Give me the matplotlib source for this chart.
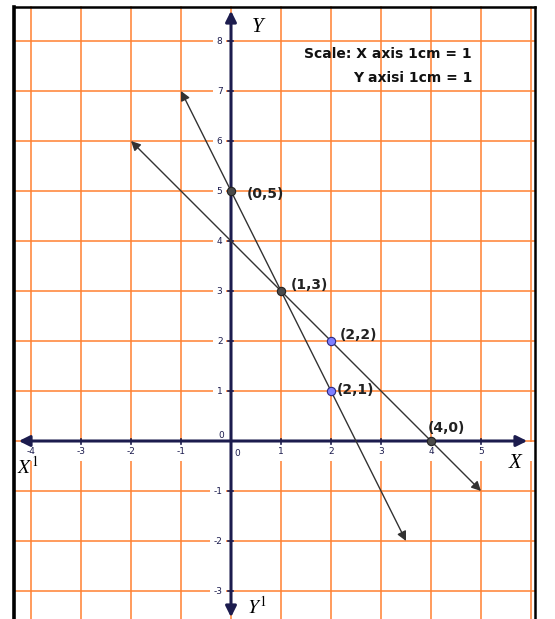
import matplotlib.pyplot as plt

plt.rcParams['mathtext.fontset'] = 'stix'

# line segments drawn with arrows at both ends (start, end)
line_a = [(-1, 7), (3.5, -2)]   # y = 5 - 2x
line_b = [(-2, 6), (5, -1)]     # y = 4 - x

# marked points
gray_pts = [(0, 5), (1, 3), (4, 0)]
blue_pts = [(2, 2), (2, 1)]
point_labels = ["(0,5)", "(1,3)", "(2,2)", "(2,1)", "(4,0)"]
label_pos = [(0.32, 4.94), (1.2, 3.12), (2.18, 2.12), (2.12, 1.02), (3.94, 0.26)]

x_ticks = [-4, -3, -2, -1, 1, 2, 3, 4, 5]
y_ticks = [-3, -2, -1, 1, 2, 3, 4, 5, 6, 7, 8]

grid_x = list(range(-4, 7))
grid_y = list(range(-3, 9))

orange = '#ff8030'
navy = '#1c1c4e'

fig = plt.figure(figsize=(5.55, 6.19), dpi=100)
ax = fig.add_axes([0, 0, 1, 1])
ax.set_xlim(-4.62, 6.48)
ax.set_ylim(-3.56, 8.82)
ax.axis('off')

left, right, top, bottom = -4.34, 6.08, 8.68, -3.6

# grid
for gx in grid_x:
    ax.plot([gx, gx], [bottom, top], color=orange, lw=1.1, zorder=1)
for gy in grid_y:
    ax.plot([left, right], [gy, gy], color=orange, lw=1.1, zorder=1)

# white band under the x tick labels (grid is broken there)
ax.fill_between([left + 0.04, right - 0.04], -0.4, -0.02, color='white', lw=0, zorder=2)

# frame
ax.plot([left, left], [bottom, top], color='black', lw=2.6, zorder=3)
ax.plot([right, right], [bottom, top], color='black', lw=1.8, zorder=3)
ax.plot([left, right], [top, top], color='black', lw=1.8, zorder=3)

# axes with arrows
ax.annotate('', xy=(-4.3, 0), xytext=(5.98, 0),
            arrowprops=dict(arrowstyle='<|-|>', color=navy, lw=2.2, mutation_scale=16), zorder=5)
ax.annotate('', xy=(0, 8.66), xytext=(0, -3.58),
            arrowprops=dict(arrowstyle='<|-|>', color=navy, lw=2.2, mutation_scale=16), zorder=5)

# tick marks and labels
for t in x_ticks:
    ax.plot([t, t], [-0.05, 0.05], color=navy, lw=1.2, zorder=5)
    ax.text(t, -0.22, str(t), ha='center', va='center', fontsize=6.5, color=navy, zorder=4)
for t in y_ticks:
    ax.plot([-0.05, 0.05], [t, t], color=navy, lw=1.2, zorder=5)
    ax.text(-0.17, t, str(t), ha='right', va='center', fontsize=6.5, color=navy, zorder=4,
            bbox=dict(facecolor='white', edgecolor='none', pad=2.5))
ax.text(-0.2, 0.1, '0', ha='center', va='center', fontsize=6.5, color=navy, zorder=4)
ax.text(0.12, -0.24, '0', ha='center', va='center', fontsize=6.5, color=navy, zorder=4)

# the two lines
for seg in [line_a, line_b]:
    ax.annotate('', xy=seg[0], xytext=seg[1],
                arrowprops=dict(arrowstyle='<|-|>', color='#333333', lw=1.0, mutation_scale=14,
                                shrinkA=0, shrinkB=0), zorder=6)

# points
ax.scatter([p[0] for p in gray_pts], [p[1] for p in gray_pts], s=36,
           facecolor='#4a4a4a', edgecolor='#222222', lw=0.8, zorder=7)
ax.scatter([p[0] for p in blue_pts], [p[1] for p in blue_pts], s=36,
           facecolor='#7f7fff', edgecolor='#2a2a80', lw=0.8, zorder=7)
for lab, (lx, ly) in zip(point_labels, label_pos):
    ax.text(lx, ly, lab, ha='left', va='center', fontsize=10, fontweight='bold',
            color='#222222', zorder=8)

# axis names
ax.text(0.54, 8.28, 'Y', fontsize=15, family='Liberation Serif', style='italic',
        ha='center', va='center', zorder=8)
ax.text(5.68, -0.46, 'X', fontsize=15, family='Liberation Serif', style='italic',
        ha='center', va='center', zorder=8)
ax.text(-4.28, -0.52, r'$X^1$', fontsize=14, ha='left', va='center', zorder=8)
ax.text(0.32, -3.32, r'$Y^1$', fontsize=14, ha='left', va='center', zorder=8)

# scale note
ax.text(4.82, 7.74, 'Scale: X axis 1cm = 1', ha='right', va='center', fontsize=10,
        fontweight='bold', color='#111111', zorder=8)
ax.text(4.82, 7.26, 'Y axisi 1cm = 1', ha='right', va='center', fontsize=10,
        fontweight='bold', color='#111111', zorder=8)

fig.savefig('out.png', dpi=100)
